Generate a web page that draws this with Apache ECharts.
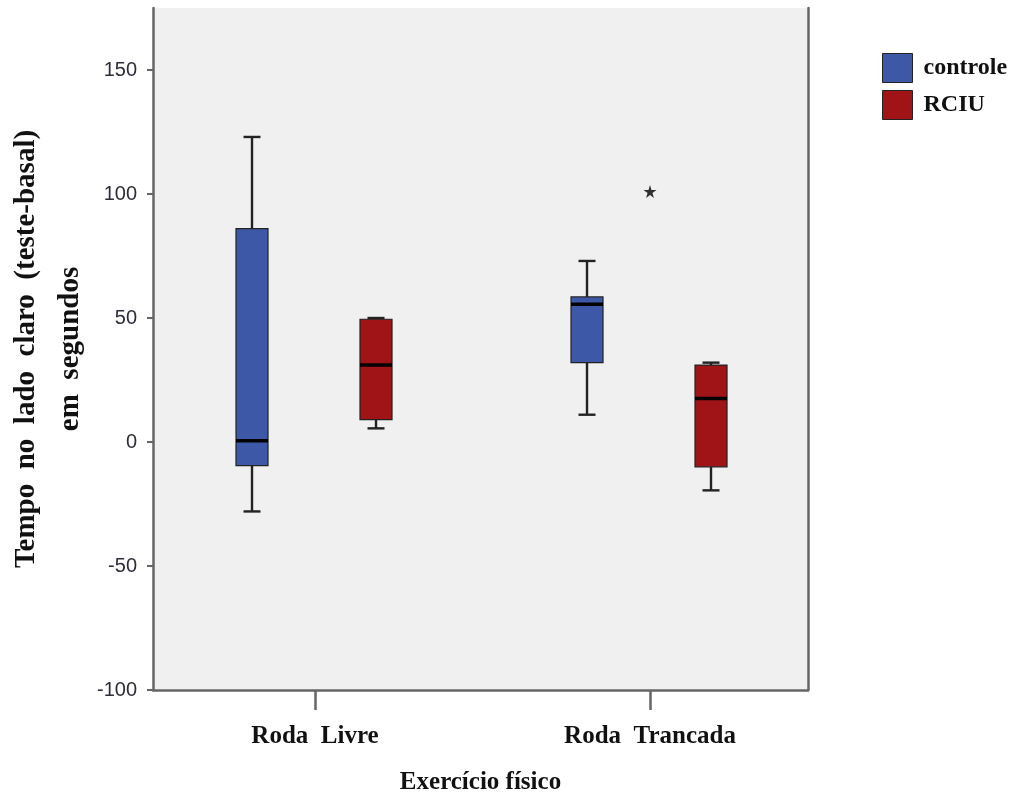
<!DOCTYPE html>
<html>
<head>
<meta charset="utf-8">
<script src="https://cdn.jsdelivr.net/npm/echarts@6/dist/echarts.min.js"></script>
<style>html,body{margin:0;padding:0;background:#fff}#c{width:1016px;height:793px}</style>
</head>
<body>
<div id="c"></div>
<script>
// ---- data ----
const categories = ['Roda  Livre', 'Roda  Trancada'];
const seriesNames = ['controle', 'RCIU'];
// [min, Q1, median, Q3, max]
const controle = [[-28, -9.5, 0.5, 86, 123], [11, 32, 55.5, 58.5, 73]];
const rciu = [[5.5, 9, 31, 49.5, 50], [-19.5, -10, 17.5, 31, 32]];
// extreme value (*) : [category index, value]
const extremes = [[1, 101]];
const yTicks = [-100, -50, 0, 50, 100, 150];

const colors = ['#3e58a8', '#a01418'];
const serif = '"Liberation Serif", "Times New Roman", serif';

function toRows(arr) { return arr.map((b, i) => [i].concat(b)); }

function boxRenderer(offsetPx, fill) {
  return function (params, api) {
    const xi = api.value(0);
    const cx = api.coord([xi, 0])[0] + offsetPx;
    const Y = v => api.coord([xi, v])[1];
    const lo = Y(api.value(1)), q1 = Y(api.value(2)), md = Y(api.value(3)), q3 = Y(api.value(4)), hi = Y(api.value(5));
    const hw = 16, cw = 8.5;
    const ls = { stroke: '#222', lineWidth: 2.4 };
    return {
      type: 'group',
      children: [
        { type: 'line', shape: { x1: cx, y1: hi, x2: cx, y2: q3 }, style: ls },
        { type: 'line', shape: { x1: cx, y1: q1, x2: cx, y2: lo }, style: ls },
        { type: 'line', shape: { x1: cx - cw, y1: hi, x2: cx + cw, y2: hi }, style: ls },
        { type: 'line', shape: { x1: cx - cw, y1: lo, x2: cx + cw, y2: lo }, style: ls },
        { type: 'rect', shape: { x: cx - hw, y: q3, width: 2 * hw, height: q1 - q3 }, style: { fill: fill, stroke: '#222', lineWidth: 1.2 } },
        { type: 'line', shape: { x1: cx - hw, y1: md, x2: cx + hw, y2: md }, style: { stroke: '#000', lineWidth: 3.5 } }
      ]
    };
  };
}

const chart = echarts.init(document.getElementById('c'), null, { renderer: 'canvas' });
const axisGray = '#666';
chart.setOption({
  animation: false,
  backgroundColor: '#ffffff',
  grid: { left: 153, right: 208, top: 8, bottom: 103, show: true, backgroundColor: '#f0f0f0', borderWidth: 0,
    containLabel: false, outerBoundsMode: 'none' },
  legend: {
    orient: 'vertical', left: 877, top: 48, itemWidth: 30, itemHeight: 29, itemGap: 7,
    icon: 'rect',
    itemStyle: { borderColor: '#222', borderWidth: 1 },
    textStyle: { fontFamily: serif, fontWeight: 'bold', fontSize: 24, color: '#111', padding: [0, 0, 0, 6] },
    data: seriesNames
  },
  xAxis: {
    type: 'value', min: -0.4836, max: 1.4716,
    name: 'Exercício físico', nameLocation: 'middle', nameGap: 80,
    nameTextStyle: { fontFamily: serif, fontWeight: 'bold', fontSize: 25, color: '#111' },
    axisLine: { show: true, onZero: false, lineStyle: { color: axisGray, width: 2.5 } },
    axisTick: { show: true, length: 20, lineStyle: { color: axisGray, width: 2.5 }, customValues: [0, 1] },
    axisLabel: { customValues: [0, 1], formatter: v => categories[Math.round(v)], margin: 34,
      fontFamily: serif, fontWeight: 'bold', fontSize: 25, color: '#111' },
    splitLine: { show: false }
  },
  yAxis: [{
    type: 'value', min: -100, max: 175, interval: 50,
    name: 'Tempo  no  lado  claro  (teste-basal)\nem  segundos', nameLocation: 'middle', nameGap: 60, nameRotate: 90,
    nameMoveOverlap: false,
    nameTextStyle: { fontFamily: serif, fontWeight: 'bold', fontSize: 29, color: '#111', lineHeight: 44, align: 'center' },
    axisLine: { show: true, onZero: false, lineStyle: { color: axisGray, width: 2.5 } },
    axisTick: { show: true, length: 6, lineStyle: { color: axisGray, width: 2 }, customValues: yTicks },
    axisLabel: { customValues: yTicks, margin: 16, fontFamily: '"Liberation Sans", Arial, sans-serif', fontSize: 20, color: '#2d2d3a' },
    splitLine: { show: false }
  }, {
    type: 'value', min: -100, max: 175, position: 'right',
    axisLine: { show: true, onZero: false, lineStyle: { color: axisGray, width: 2.5 } },
    axisTick: { show: false }, axisLabel: { show: false }, splitLine: { show: false }
  }],
  series: [
    { name: seriesNames[0], type: 'custom', itemStyle: { color: colors[0] },
      renderItem: boxRenderer(-63, colors[0]), encode: { x: 0, y: [1, 2, 3, 4, 5] }, data: toRows(controle) },
    { name: seriesNames[1], type: 'custom', itemStyle: { color: colors[1] },
      renderItem: boxRenderer(61, colors[1]), encode: { x: 0, y: [1, 2, 3, 4, 5] }, data: toRows(rciu) },
    { type: 'scatter', data: extremes, symbol: 'path://M50,0 L61,35 L98,35 L68,57 L79,92 L50,70 L21,92 L32,57 L2,35 L39,35 Z',
      symbolSize: 13, itemStyle: { color: '#000' }, z: 5 }
  ]
});
</script>
</body>
</html>
